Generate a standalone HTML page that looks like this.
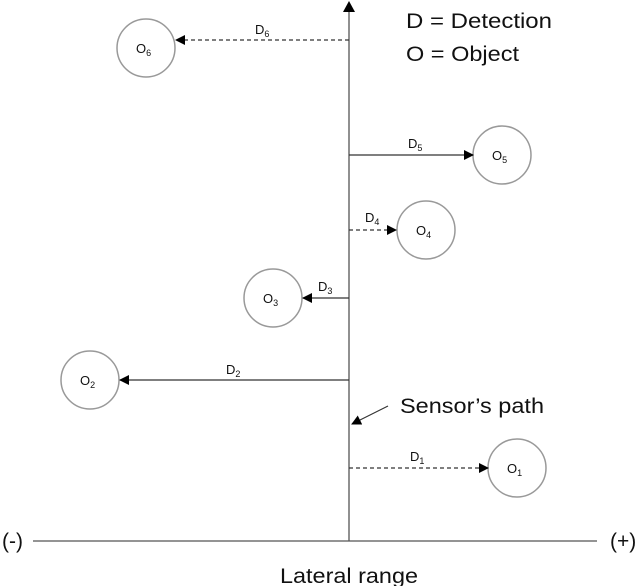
<!DOCTYPE html>
<html><head><style>
body{margin:0;background:#fff}
svg{display:block}
text{font-family:"Liberation Sans",sans-serif;fill:#111}
</style></head><body>
<svg width="640" height="586" viewBox="0 0 640 586" xmlns="http://www.w3.org/2000/svg">
<defs>
<marker id="a" markerWidth="10" markerHeight="10" refX="9" refY="5" orient="auto" markerUnits="userSpaceOnUse">
<path d="M0,0 L10,5 L0,10 z" fill="#000"/></marker>
</defs>
<g stroke="#555" stroke-width="1.3" fill="none">
<line x1="349" y1="541" x2="349" y2="4"/>
<line x1="33" y1="541" x2="597" y2="541"/>
</g>
<path d="M343,12 L349,1 L355,12 z" fill="#000"/>
<g stroke="#999" stroke-width="1.5" fill="#fff">
<circle cx="146" cy="48" r="29"/>
<circle cx="502" cy="155" r="29"/>
<circle cx="426" cy="230" r="29"/>
<circle cx="273" cy="298" r="29"/>
<circle cx="90" cy="380" r="29"/>
<circle cx="517" cy="468" r="29"/>
</g>
<g stroke="#333" stroke-width="1.2" fill="none">
<line x1="349" y1="40" x2="176" y2="40" stroke-dasharray="4,3" marker-end="url(#a)"/>
<line x1="349" y1="155" x2="473" y2="155" marker-end="url(#a)"/>
<line x1="349" y1="230" x2="396" y2="230" stroke-dasharray="4,3" marker-end="url(#a)"/>
<line x1="349" y1="298" x2="303" y2="298" marker-end="url(#a)"/>
<line x1="349" y1="380" x2="120" y2="380" marker-end="url(#a)"/>
<line x1="349" y1="468" x2="488" y2="468" stroke-dasharray="4,3" marker-end="url(#a)"/>
<line x1="388" y1="406" x2="352" y2="424" marker-end="url(#a)"/>
</g>
<g font-size="13">
<text x="136" y="53">O<tspan font-size="9" dy="3">6</tspan></text>
<text x="492" y="160">O<tspan font-size="9" dy="3">5</tspan></text>
<text x="416" y="235">O<tspan font-size="9" dy="3">4</tspan></text>
<text x="263" y="303">O<tspan font-size="9" dy="3">3</tspan></text>
<text x="80" y="385">O<tspan font-size="9" dy="3">2</tspan></text>
<text x="507" y="473">O<tspan font-size="9" dy="3">1</tspan></text>
<text x="255" y="34">D<tspan font-size="9" dy="3">6</tspan></text>
<text x="408" y="148">D<tspan font-size="9" dy="3">5</tspan></text>
<text x="365" y="222">D<tspan font-size="9" dy="3">4</tspan></text>
<text x="318" y="291">D<tspan font-size="9" dy="3">3</tspan></text>
<text x="226" y="374">D<tspan font-size="9" dy="3">2</tspan></text>
<text x="410" y="461">D<tspan font-size="9" dy="3">1</tspan></text>
</g>
<g font-size="21">
<text x="406" y="28" textLength="146" lengthAdjust="spacingAndGlyphs">D = Detection</text>
<text x="406" y="61" textLength="113" lengthAdjust="spacingAndGlyphs">O = Object</text>
<text x="400" y="413" textLength="144" lengthAdjust="spacingAndGlyphs">Sensor’s path</text>
<text x="2" y="548">(-)</text>
<text x="610" y="548">(+)</text>
<text x="280" y="583" textLength="138" lengthAdjust="spacingAndGlyphs">Lateral range</text>
</g>
</svg>
</body></html>
